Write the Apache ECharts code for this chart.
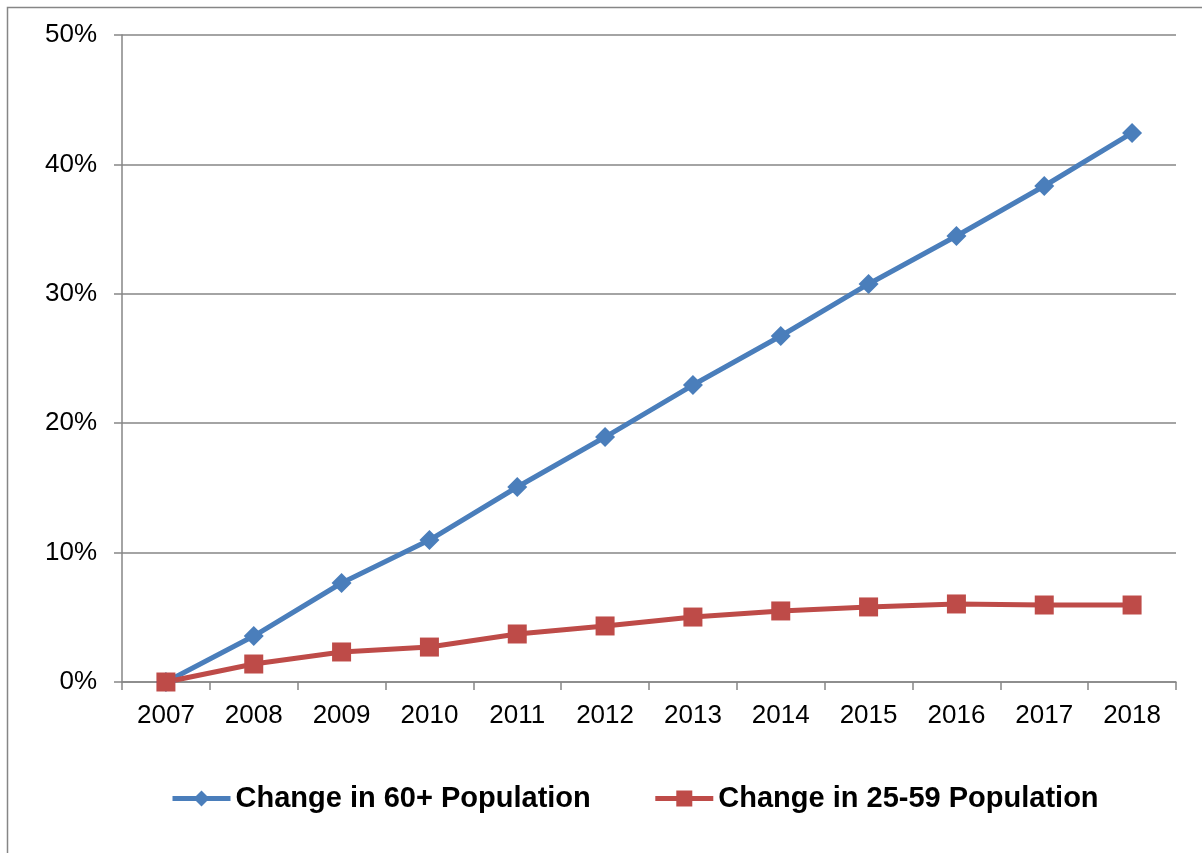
<!DOCTYPE html>
<html>
<head>
<meta charset="utf-8">
<script src="https://cdn.jsdelivr.net/npm/echarts@6/dist/echarts.min.js"></script>
<style>
html,body{margin:0;padding:0;background:#fff;}
#chart{width:1202px;height:853px;}
</style>
</head>
<body>
<div id="chart"></div>
<script>
const years = ['2007','2008','2009','2010','2011','2012','2013','2014','2015','2016','2017','2018'];
const pop60plus = [0, 3.55, 7.65, 10.97, 15.07, 18.93, 22.95, 26.74, 30.76, 34.47, 38.33, 42.43];
const pop2559 = [0, 1.39, 2.32, 2.70, 3.71, 4.33, 5.02, 5.49, 5.80, 6.03, 5.95, 5.95];
const seriesNames = ['Change in 60+ Population', 'Change in 25-59 Population'];

const chart = echarts.init(document.getElementById('chart'), null, {renderer:'canvas'});
const font = '"Liberation Sans", Arial, sans-serif';
chart.setOption({
  animation: false,
  backgroundColor: '#fff',
  graphic: [{
    type: 'rect',
    shape: {x: 7.5, y: 7.5, width: 1300, height: 1000},
    style: {fill: 'none', stroke: '#868686', lineWidth: 1.5},
    silent: true
  }],
  grid: {left: 122, right: 26, top: 35, bottom: 171, containLabel: false},
  legend: {
    left: 165, top: 779,
    itemWidth: 58, itemHeight: 20, itemGap: 62,
    lineStyle: {width: 5},
    textStyle: {fontFamily: font, fontSize: 29, fontWeight: 'bold', color: '#000'},
    data: seriesNames
  },
  xAxis: {
    type: 'category',
    data: years,
    boundaryGap: true,
    axisLine: {lineStyle: {color: '#868686', width: 1.5}},
    axisTick: {show: true, length: 8, lineStyle: {color: '#868686', width: 1.5}},
    axisLabel: {fontFamily: font, fontSize: 26, color: '#000', margin: 21}
  },
  yAxis: {
    type: 'value',
    min: 0, max: 50, interval: 10,
    axisLine: {show: true, lineStyle: {color: '#868686', width: 1.5}},
    axisTick: {show: true, length: 8, lineStyle: {color: '#868686', width: 1.5}},
    splitLine: {lineStyle: {color: '#868686', width: 1.5}},
    axisLabel: {fontFamily: font, fontSize: 26, color: '#000', margin: 25, formatter: '{value}%'}
  },
  series: [
    {
      name: seriesNames[0], type: 'line', data: pop60plus,
      symbol: 'diamond', symbolSize: 20, showAllSymbol: true,
      lineStyle: {color: '#4A7EBB', width: 5},
      itemStyle: {color: '#4A7EBB'}
    },
    {
      name: seriesNames[1], type: 'line', data: pop2559,
      symbol: 'rect', symbolSize: 19, showAllSymbol: true,
      lineStyle: {color: '#BE4B48', width: 5},
      itemStyle: {color: '#BE4B48'}
    }
  ]
});
</script>
</body>
</html>
